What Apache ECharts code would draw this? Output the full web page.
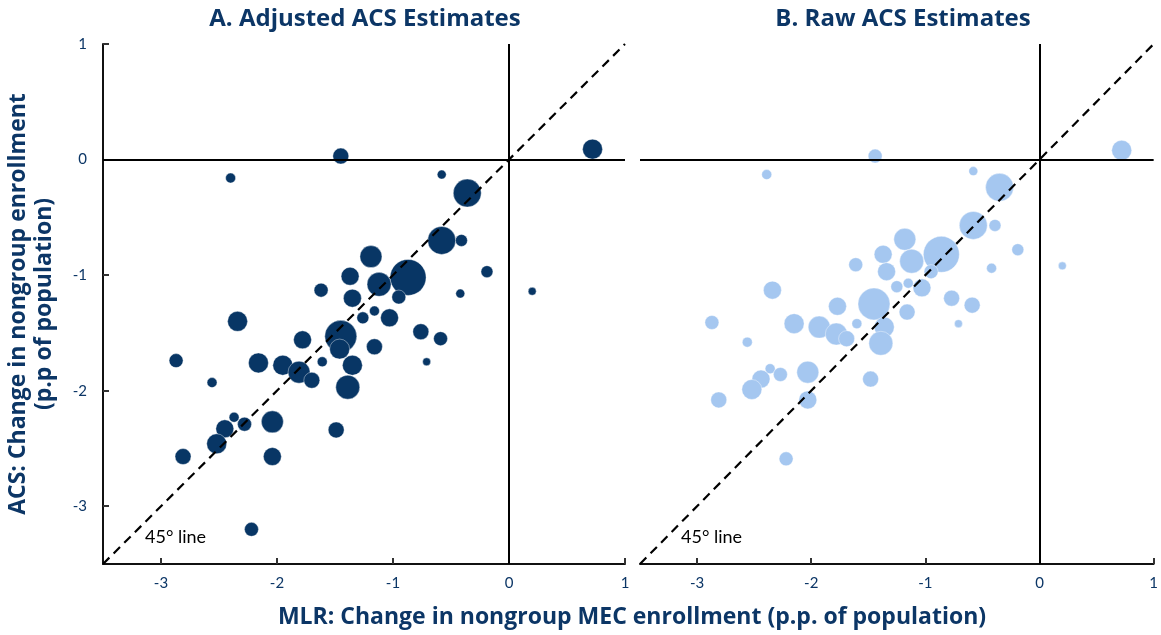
<!DOCTYPE html>
<html>
<head>
<meta charset="utf-8">
<script src="https://cdn.jsdelivr.net/npm/echarts@6/dist/echarts.min.js"></script>
<style>
  html, body { margin: 0; padding: 0; background: #fff; }
  #chart { width: 1161px; height: 635px; }
</style>
</head>
<body>
<div id="chart"></div>
<script>
// tick values shared by both panels
const tickVals = [-3, -2, -1, 0, 1];
const axisMin = -3.5;
const axisMax = 1;

// Panel A: adjusted ACS estimates (x = MLR change, y = ACS change, w = bubble weight)
const adjX = [0.72, -1.45, -2.40, -0.58, -0.36, -0.58, -0.41, -1.19, -0.19, -0.87, -1.12, -1.37, -1.62, -1.35, -0.95, -0.42, 0.20, -1.16, -1.03, -1.26, -2.34, -1.45, -1.46, -1.78, -1.16, -0.76, -0.59, -0.71, -2.87, -2.16, -1.95, -1.81, -1.70, -1.61, -1.35, -1.39, -2.56, -2.37, -2.28, -2.45, -2.52, -2.04, -1.49, -2.81, -2.04, -2.22];
const adjY = [0.09, 0.03, -0.16, -0.13, -0.29, -0.70, -0.70, -0.84, -0.97, -1.02, -1.08, -1.01, -1.13, -1.20, -1.19, -1.16, -1.14, -1.31, -1.37, -1.37, -1.40, -1.53, -1.64, -1.56, -1.62, -1.49, -1.55, -1.75, -1.74, -1.76, -1.78, -1.84, -1.91, -1.75, -1.78, -1.97, -1.93, -2.23, -2.29, -2.33, -2.46, -2.27, -2.34, -2.57, -2.57, -3.20];
const adjW = [10, 8, 5, 4.5, 14, 14, 6, 11, 6, 18, 12, 9, 7, 9, 7, 4.5, 4, 5, 9, 6, 10, 16, 10, 9, 8, 8, 7, 4, 7, 10, 10, 11, 8, 5, 10, 12, 5, 5, 7, 9, 10, 11, 8, 8, 9, 7];

// Panel B: raw ACS estimates
const rawX = [0.72, -1.44, -2.39, -0.58, -0.35, -0.58, -0.39, -1.18, -0.19, -0.86, -1.12, -1.37, -1.61, -1.34, -0.95, -0.42, 0.20, -1.15, -1.03, -1.25, -2.34, -1.45, -1.77, -1.16, -0.77, -0.59, -0.71, -2.87, -2.15, -1.93, -1.78, -1.69, -1.60, -1.36, -1.39, -2.56, -2.36, -2.27, -2.44, -2.52, -2.03, -1.48, -2.81, -2.03, -2.22];
const rawY = [0.08, 0.03, -0.13, -0.10, -0.24, -0.57, -0.57, -0.69, -0.78, -0.82, -0.88, -0.82, -0.91, -0.97, -0.97, -0.94, -0.92, -1.07, -1.11, -1.10, -1.13, -1.25, -1.27, -1.32, -1.20, -1.26, -1.42, -1.41, -1.42, -1.45, -1.51, -1.55, -1.42, -1.45, -1.59, -1.58, -1.81, -1.86, -1.90, -1.99, -1.84, -1.90, -2.08, -2.08, -2.59];
const rawW = [10, 7, 5, 4.5, 14, 14, 6, 11, 6, 18, 12, 9, 7, 9, 7, 5, 4, 5, 9, 6, 9, 16, 9, 8, 8, 8, 4, 7, 10, 11, 11, 8, 5, 10, 12, 5, 5, 7, 9, 10, 11, 8, 8, 9, 7];

const darkBlue = '#083665';
const lightBlue = '#a5c7f0';
const navy = '#0c3666';
const font = 'Lato, "Open Sans", sans-serif';
const titleFont = '"Open Sans", Lato, sans-serif';

const zip = (xs, ys, ws) => xs.map((x, i) => [x, ys[i], ws[i]]);

const xAxisFor = (gridIndex) => ({
  type: 'value',
  gridIndex: gridIndex,
  min: axisMin,
  max: axisMax,
  splitLine: { show: false },
  axisLine: { show: true, onZero: false, lineStyle: { color: '#111', width: 2 } },
  axisTick: { show: true, inside: true, length: 6, customValues: tickVals, lineStyle: { color: '#333', width: 2 } },
  axisLabel: { customValues: tickVals, margin: 12, color: navy, fontSize: 15, fontFamily: font }
});

const yAxisFor = (gridIndex, visible) => ({
  type: 'value',
  gridIndex: gridIndex,
  min: axisMin,
  max: axisMax,
  splitLine: { show: false },
  axisLine: { show: visible, onZero: false, lineStyle: { color: '#111', width: 2 } },
  axisTick: { show: visible, inside: true, length: 6, customValues: tickVals, lineStyle: { color: '#333', width: 2 } },
  axisLabel: { show: visible, customValues: tickVals, margin: 16, color: navy, fontSize: 15, fontFamily: font },
  name: visible ? 'ACS: Change in nongroup enrollment\n(p.p of population)' : '',
  nameLocation: 'middle',
  nameGap: 46,
  nameTextStyle: { color: navy, fontSize: 23, fontWeight: 'bold', fontFamily: titleFont, lineHeight: 26 }
});

// zero lines through each panel
const refLines = (idx) => ({
  type: 'line',
  xAxisIndex: idx,
  yAxisIndex: idx,
  data: [],
  z: 1,
  silent: true,
  markLine: {
    symbol: 'none',
    silent: true,
    animation: false,
    label: { show: false },
    lineStyle: { color: '#000', type: 'solid', width: 2 },
    data: [{ xAxis: 0 }, { yAxis: 0 }]
  }
});

// 45-degree line spanning the axis range
const diagLine = (idx) => ({
  type: 'line',
  xAxisIndex: idx,
  yAxisIndex: idx,
  z: 5,
  silent: true,
  showSymbol: false,
  animation: false,
  data: [[axisMin, axisMin], [axisMax, axisMax]],
  lineStyle: { color: '#000', width: 2.2, type: [9, 6] }
});

const bubbles = (idx, data, color) => ({
  type: 'scatter',
  xAxisIndex: idx,
  yAxisIndex: idx,
  z: 3,
  data: data,
  symbolSize: (d) => d[2] * 2,
  itemStyle: { color: color, opacity: 1, borderColor: '#fff', borderWidth: 0.4 }
});

const chart = echarts.init(document.getElementById('chart'));

chart.setOption({
  animation: false,
  backgroundColor: '#fff',
  grid: [
    { left: 103, top: 44, width: 522, height: 520 },
    { left: 640, top: 44, width: 520, height: 520 }
  ],
  xAxis: [xAxisFor(0), xAxisFor(1)],
  yAxis: [yAxisFor(0, true), yAxisFor(1, false)],
  graphic: [
    { type: 'text', x: 365, y: 19, style: { text: 'A. Adjusted ACS Estimates', fill: navy, fontSize: 24,
      fontWeight: 'bold', fontFamily: titleFont, textAlign: 'center', textVerticalAlign: 'middle' } },
    { type: 'text', x: 903, y: 19, style: { text: 'B. Raw ACS Estimates', fill: navy, fontSize: 24,
      fontWeight: 'bold', fontFamily: titleFont, textAlign: 'center', textVerticalAlign: 'middle' } },
    { type: 'text', x: 632, y: 617, style: { text: 'MLR: Change in nongroup MEC enrollment (p.p. of population)',
      fill: navy, fontSize: 23, fontWeight: 'bold', fontFamily: titleFont, textAlign: 'center', textVerticalAlign: 'middle' } },
    { type: 'text', x: 145, y: 537, style: { text: '45° line', fill: '#000', fontSize: 18, fontFamily: font, textVerticalAlign: 'middle' } },
    { type: 'text', x: 681, y: 537, style: { text: '45° line', fill: '#000', fontSize: 18, fontFamily: font, textVerticalAlign: 'middle' } }
  ],
  series: [
    refLines(0),
    refLines(1),
    bubbles(0, zip(adjX, adjY, adjW), darkBlue),
    bubbles(1, zip(rawX, rawY, rawW), lightBlue),
    diagLine(0),
    diagLine(1)
  ]
});
</script>
</body>
</html>
